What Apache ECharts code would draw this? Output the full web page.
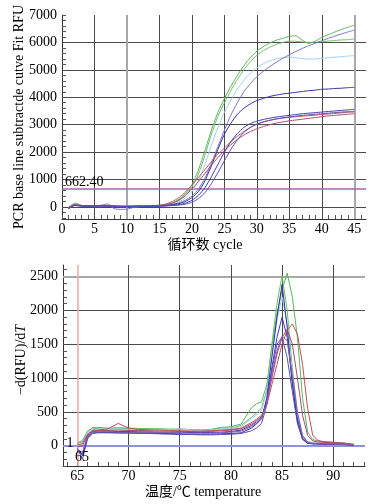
<!DOCTYPE html>
<html><head><meta charset="utf-8">
<script src="https://cdn.jsdelivr.net/npm/echarts@6/dist/echarts.min.js"></script>
<style>html,body{margin:0;padding:0;background:#fff}#c{width:380px;height:504px}</style>
</head><body><div id="c"></div>
<script>
// ---------- Amplification (top) ----------
const cycles = [1,2,3,4,5,6,7,8,9,10,11,12,13,14,15,16,17,18,19,20,21,22,23,24,25,26,27,28,29,30,31,32,33,34,35,36,37,38,39,40,41,42,43,44,45];
const ampGreenA = [-30,140,60,40,50,50,40,30,30,30,30,40,40,50,60,80,150,280,480,800,1350,2050,2800,3450,3950,4400,4800,5150,5450,5680,5850,5980,6080,6150,6220,6240,6080,5960,6050,6180,6280,6380,6470,6550,6620];
const ampGreenB = [-20,100,50,40,40,50,50,40,30,20,30,30,40,40,50,60,120,230,420,720,1200,1880,2650,3300,3800,4250,4650,5000,5300,5530,5700,5830,5930,6000,6050,6040,6020,6000,6010,6030,6050,6070,6090,6100,6120];
const ampLightBlue = [0,80,50,40,40,40,50,40,30,30,30,30,40,40,40,60,100,180,330,560,950,1550,2250,2900,3450,3900,4300,4620,4880,5080,5220,5330,5400,5440,5460,5440,5410,5390,5400,5420,5440,5460,5480,5500,5520];
const ampViolet = [-60,60,40,40,50,60,110,-60,-90,-80,-20,10,20,30,40,60,90,150,250,400,650,1050,1600,2200,2800,3350,3800,4200,4500,4750,4950,5120,5280,5420,5550,5670,5780,5880,5970,6060,6150,6230,6310,6380,6450];
const ampDarkBlue = [-40,70,40,30,40,40,40,30,20,20,20,30,30,30,40,50,80,120,200,340,560,950,1500,2100,2650,3050,3380,3600,3760,3880,3960,4030,4080,4120,4150,4180,4210,4240,4260,4290,4300,4320,4330,4350,4360];
const ampRed = [-20,90,50,40,40,50,40,30,30,30,30,40,40,50,60,110,200,340,540,800,1080,1360,1650,1920,2150,2380,2580,2750,2900,3020,3100,3160,3210,3240,3270,3290,3310,3330,3350,3370,3390,3410,3430,3450,3460];
const ampMaroon = [-30,80,40,30,40,40,30,30,20,20,30,30,30,40,50,80,140,250,420,650,920,1220,1520,1800,2050,2270,2460,2620,2750,2850,2930,3000,3060,3100,3140,3170,3200,3230,3260,3290,3320,3340,3360,3380,3400];
const ampBlueA = [-50,60,30,30,30,40,30,20,10,10,20,20,20,30,30,40,60,80,140,240,420,700,1100,1550,2000,2380,2680,2900,3040,3130,3190,3240,3280,3310,3340,3370,3400,3420,3440,3460,3480,3500,3520,3540,3560];
const ampBlueB = [-70,50,30,20,30,30,30,20,10,0,10,20,20,20,30,40,50,70,100,170,300,520,850,1250,1680,2100,2450,2720,2900,3020,3100,3160,3210,3250,3280,3310,3340,3360,3380,3400,3420,3440,3460,3475,3490];
const threshold = 662.40;
const cycleTicks = [0,5,10,15,20,25,30,35,40,45];
const rfuTicks = [0,1000,2000,3000,4000,5000,6000,7000];

// ---------- Melt peak (bottom) ----------
const temps = [65,65.5,66,66.5,67,68,69,70,71,72,73,74,75,76,77,78,79,80,81,82,82.5,83,83.5,84,84.5,85,85.5,86,86.5,87,87.5,88,88.5,89,90,91,92];
const mGreenA = [30,60,200,270,270,260,265,260,255,250,250,245,245,240,235,240,270,280,320,560,620,650,900,1450,1950,2300,2550,2200,1600,700,200,90,70,60,50,40,20];
const mGreenB = [40,80,220,260,250,245,250,255,250,245,240,240,235,230,225,230,260,260,300,420,480,560,820,1500,2100,2510,2000,1150,500,150,60,45,40,35,30,25,15];
const mDarkBlue = [-60,-150,120,190,195,195,195,190,190,185,180,180,175,170,170,170,175,180,190,260,320,400,700,1300,1900,2380,1750,900,350,100,40,30,30,25,25,20,10];
const mLightBlue = [0,40,200,240,245,240,245,240,240,235,235,240,250,235,230,230,245,255,280,400,450,520,800,1350,1850,2200,1800,1000,420,120,50,40,35,30,30,25,15];
const mBlue1 = [-80,-120,150,210,215,215,210,210,205,205,200,200,200,195,195,195,200,210,230,300,350,420,650,1150,1600,1900,1600,950,400,110,40,30,25,25,20,20,10];
const mBlue2 = [-40,-200,100,180,190,190,185,185,180,180,175,170,165,165,160,160,165,170,180,220,260,330,600,1100,1500,1600,1300,800,330,90,35,25,25,20,20,15,10];
const mRed = [10,30,170,230,230,250,330,260,240,235,230,225,220,215,215,220,230,240,260,340,390,450,600,900,1200,1500,1700,1800,1650,1200,550,150,80,60,50,40,20];
const mMaroon = [-20,0,160,220,225,225,230,225,225,220,215,215,210,210,205,210,220,230,250,320,370,430,620,1000,1350,1600,1720,1500,1000,450,150,70,55,50,40,30,15];
const mPurple = [-50,-100,140,200,205,205,200,200,200,195,195,190,190,185,185,185,190,200,215,280,330,400,620,1050,1400,1620,1550,1050,480,150,50,35,30,25,25,20,10];
const tempTicks = [65,70,75,80,85,90];
const dRfuTicks = [0,500,1000,1500,2000,2500];

const C = {green:'#5fb35f', green2:'#6cbf6a', light:'#9fd0f2', violet:'#7d70c6', dark:'#2e2e9c', red:'#c2505a', maroon:'#a84a78', blueA:'#3c3ca8', blueB:'#5a50b4', purple:'#8a5ab8'};
const serif = "'Liberation Serif','Times New Roman',serif";

function range(a,b,s){const r=[];for(let v=a;v<=b+1e-9;v+=s)r.push(Math.round(v*100)/100);return r;}
function pairs(xs,ys){return xs.map((x,i)=>[x,ys[i]]);}

const chart = echarts.init(document.getElementById('c'), null, {renderer:'canvas'});
const gridDark = {color:'#4a4a4a', width:1, type:'solid'};
const gridGray = {color:'#a8a8a8', width:2, type:'solid'};

function line(name, xi, data, color, smooth){
  return {name, type:'line', xAxisIndex:xi, yAxisIndex:xi, data, symbol:'none', smooth:smooth,
    lineStyle:{color, width:1}, itemStyle:{color}, z:3, silent:true, animation:false};
}

const topGridLines = {
  silent:true, symbol:['none','none'], z:1, label:{show:false}, animation:false,
  lineStyle:{type:'solid'},
  data: [
    ...rfuTicks.filter(v=>v<7000).map(v=>({yAxis:v, lineStyle:gridDark})),
    ...cycleTicks.filter(v=>v>0).map(v=>({xAxis:v, lineStyle:(v===10||v===45)?gridGray:gridDark})),
    {yAxis:threshold, lineStyle:{color:'#b060b0', width:1.5, type:'solid'}}
  ]
};
const botGridLines = {
  silent:true, symbol:['none','none'], z:1, label:{show:false}, animation:false,
  lineStyle:{type:'solid'},
  data: [
    ...dRfuTicks.filter(v=>v>0).map(v=>({yAxis:v, lineStyle:v===2500?gridGray:gridDark})),
    ...tempTicks.filter(v=>v>65).map(v=>({xAxis:v, lineStyle:gridDark})),
    {yAxis:0, lineStyle:{color:'#8c94d4', width:2, type:'solid'}},
    {xAxis:65, lineStyle:{color:'#f2a6a6', width:1.5, type:'solid'}}
  ]
};

const ampSeries = [
  line('GA',0,pairs(cycles,ampGreenA),C.green,0.2),
  line('GB',0,pairs(cycles,ampGreenB),C.green2,0.2),
  line('LB',0,pairs(cycles,ampLightBlue),C.light,0.2),
  line('VI',0,pairs(cycles,ampViolet),C.violet,0.2),
  line('DB',0,pairs(cycles,ampDarkBlue),C.dark,0.2),
  line('RD',0,pairs(cycles,ampRed),C.red,0.2),
  line('MR',0,pairs(cycles,ampMaroon),C.maroon,0.2),
  line('BA',0,pairs(cycles,ampBlueA),C.blueA,0.2),
  line('BB',0,pairs(cycles,ampBlueB),C.blueB,0.2)
];
ampSeries[0].markLine = topGridLines;
const meltSeries = [
  line('mGA',1,pairs(temps,mGreenA),C.green,false),
  line('mGB',1,pairs(temps,mGreenB),C.green2,false),
  line('mLB',1,pairs(temps,mLightBlue),C.light,false),
  line('mDB',1,pairs(temps,mDarkBlue),C.dark,false),
  line('mB1',1,pairs(temps,mBlue1),C.blueA,false),
  line('mB2',1,pairs(temps,mBlue2),C.blueB,false),
  line('mRD',1,pairs(temps,mRed),C.red,false),
  line('mMR',1,pairs(temps,mMaroon),C.maroon,false),
  line('mPU',1,pairs(temps,mPurple),C.purple,false)
];
meltSeries[0].markLine = botGridLines;

function axisCommon(labelVals, tickVals, margin){
  return {
    axisLine:{show:true, onZero:false, lineStyle:{color:'#333', width:1}},
    axisTick:{show:true, inside:true, length:4, customValues:tickVals, lineStyle:{color:'#555'}},
    axisLabel:{customValues:labelVals, color:'#000', fontFamily:serif, fontSize:14, margin:margin,
      formatter:v=>String(v)},
    splitLine:{show:false}
  };
}

const opt = {
  animation:false,
  backgroundColor:'#fff',
  grid:[
    {left:62, right:14, top:15, height:204},
    {left:63, right:15, top:265, height:201}
  ],
  xAxis:[
    Object.assign({type:'value', gridIndex:0, min:0, max:46.8}, axisCommon(cycleTicks, range(0,46,1), 3)),
    Object.assign({type:'value', gridIndex:1, min:63.6, max:93.1}, axisCommon(tempTicks, range(64,93,1), 3))
  ],
  yAxis:[
    Object.assign({type:'value', gridIndex:0, min:-440, max:7000}, axisCommon(rfuTicks, range(-400,7000,200), 5)),
    Object.assign({type:'value', gridIndex:1, min:-300, max:2670}, axisCommon(dRfuTicks, range(-300,2600,100), 5))
  ],
  series: ampSeries.concat(meltSeries),
  graphic:[
    {type:'text', x:19, y:117, rotation:Math.PI/2, z:10,
      style:{text:'PCR base line subtractde cutve Fit RFU', font:'14px '+serif, fill:'#000', align:'center', verticalAlign:'middle'}},
    {type:'text', x:205, y:245, z:10,
      style:{text:'循环数 cycle', font:"14px 'Liberation Serif','Noto Sans CJK SC',serif", fill:'#000', align:'center', verticalAlign:'middle'}},
    {type:'text', x:65, y:182, z:10,
      style:{text:'662.40', font:'14px '+serif, fill:'#000', align:'left', verticalAlign:'middle'}},
    {type:'text', x:21, y:360, rotation:Math.PI/2, z:10,
      style:{text:'−d(RFU)/d{i|T}', font:'14px '+serif, fill:'#000', align:'center', verticalAlign:'middle',
        rich:{i:{fontStyle:'italic', fontFamily:serif, fontSize:14, fill:'#000'}}}},
    {type:'text', x:203, y:492, z:10,
      style:{text:'温度/℃ temperature', font:"14px 'Liberation Serif','Noto Sans CJK SC',serif", fill:'#000', align:'center', verticalAlign:'middle'}},
    {type:'text', x:70, y:443, z:10,
      style:{text:'1', font:'14px '+serif, fill:'#000', align:'center', verticalAlign:'middle'}},
    {type:'text', x:82, y:457, z:10,
      style:{text:'65', font:'14px '+serif, fill:'#000', align:'center', verticalAlign:'middle'}}
  ]
};
chart.setOption(opt);
</script></body></html>
